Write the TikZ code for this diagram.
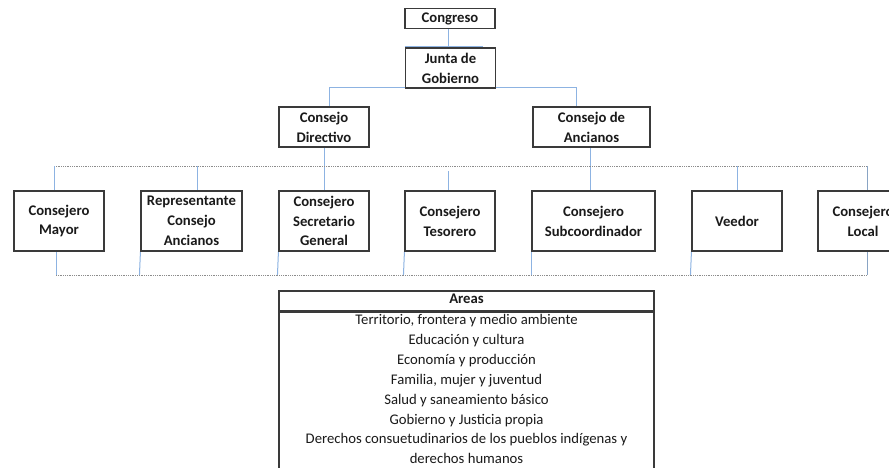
\documentclass[tikz,border=0pt]{standalone}
\usepackage{fontspec}
\setmainfont{Carlito}
\usetikzlibrary{backgrounds}
\definecolor{linkblue}{HTML}{8DB3E2}
\definecolor{boxline}{HTML}{3A3A3A}
\definecolor{guidegray}{HTML}{8C8C8C}
\definecolor{txt}{HTML}{1A1A1A}
\tikzset{
  box/.style={draw=boxline, line width=1.1pt, fill=white, align=center, inner sep=1pt,
    text=txt, font=\bfseries\fontsize{14.7}{19.8}\selectfont},
  tbox/.style={draw=boxline, line width=1.1pt, inner sep=0pt},
  conn/.style={draw=linkblue, line width=1pt},
  guide/.style={draw=guidegray, line width=0.8pt, densely dotted},
  arealine/.style={text=txt, inner sep=0pt, text height=9pt, text depth=4pt,
    font=\fontsize{14.7}{19.8}\selectfont},
}
\begin{document}
\begin{tikzpicture}[x=1pt,y=1pt]
\useasboundingbox (0,0) rectangle (889,-467);
\clip (0,0) rectangle (889,-467);
% boxes
\node[box, minimum width=90, minimum height=20] (congreso) at (450,-18.5) {Congreso};
\node[box, minimum width=90, minimum height=40] (junta) at (450.5,-68) {Junta de\\Gobierno};
\node[box, minimum width=90, minimum height=40] (directivo) at (324,-127) {Consejo\\Directivo};
\node[box, minimum width=117, minimum height=40] (ancianos) at (591.5,-127) {Consejo de\\Ancianos};
\node[box, minimum width=90, minimum height=60] (mayor) at (59,-221) {Consejero\\Mayor};
\node[box, minimum width=101, minimum height=60] (representante) at (191.5,-221) {Representante\\Consejo\\Ancianos};
\node[box, minimum width=90, minimum height=60] (secretario) at (324,-221) {Consejero\\Secretario\\General};
\node[box, minimum width=90, minimum height=60] (tesorero) at (450,-221) {Consejero\\Tesorero};
\node[box, minimum width=123, minimum height=60] (subcoord) at (593.5,-221) {Consejero\\Subcoordinador};
\node[box, minimum width=90, minimum height=60] (veedor) at (737,-221) {Veedor};
\node[box, minimum width=90, minimum height=60] (local) at (863,-221) {Consejero\\Local};
% areas table
\node[tbox, minimum width=375, minimum height=20, fill=white] (areas) at (466.5,-301) {};
\node[arealine, font=\bfseries\fontsize{14.7}{19.8}\selectfont] (areastitle) at (areas.center) {Areas};
\node[tbox, anchor=north, minimum width=375, minimum height=170] (areabody) at (areas.south) {};
\node[arealine] (a1) at (466.5,-321.5) {Territorio, frontera y medio ambiente};
\node[arealine] (a2) at (466.5,-341.5) {Educación y cultura};
\node[arealine] (a3) at (466.5,-361.5) {Economía y producción};
\node[arealine] (a4) at (466.5,-381.5) {Familia, mujer y juventud};
\node[arealine] (a5) at (466.5,-401.5) {Salud y saneamiento básico};
\node[arealine] (a6) at (466.5,-421.5) {Gobierno y Justicia propia};
\node[arealine] (a7) at (466.5,-441) {Derechos consuetudinarios de los pueblos indígenas y};
\node[arealine] (a8) at (466.5,-460.5) {derechos humanos};
% connectors
\coordinate (jl) at (329,-87);
\coordinate (jr) at (576,-87);
\coordinate (ax) at (590,0);
\coordinate (gl) at (54,-166);
\coordinate (gr) at (867,-166);
\coordinate (bl) at (56,-275);
\coordinate (br) at (867,-275);
\begin{scope}[on background layer]
\fill[white] (0,0) rectangle (889,-467);
\draw[conn] ([xshift=-2]congreso.south) -- ([xshift=-2,yshift=1]congreso.south |- junta.north);
\draw[conn] ([yshift=1]junta.north west) -- ([xshift=-13,yshift=1]junta.north east);
\draw[conn] (directivo.north -| jl) -- (jl) -- (jr) -- (ancianos.north -| jr);
\draw[conn] (directivo.south) -- (secretario.north);
\draw[conn] (ancianos.south -| ax) -- (subcoord.north -| ax);
\draw[guide] (gl) -- (gr);
\draw[guide] (bl) -- (br);
\draw[conn] (gl) -- ([yshift=-6]gl |- mayor.north);
\draw[conn] (gl -| 197,0) -- ([yshift=-5]representante.north -| 197,0);
\draw[conn] ([yshift=-5]gl -| 448,0) -- (tesorero.north -| 448,0);
\draw[conn] (gl -| veedor.north) -- (veedor.north);
\draw[conn, draw=linkblue!70!gray] (gr) -- ([yshift=-5]gr |- local.north);
\draw[conn] (mayor.south -| bl) -- (bl);
\draw[conn] (representante.south west) -- ([xshift=-1]representante.south west |- bl);
\draw[conn] (secretario.south west) -- ([xshift=-1]secretario.south west |- bl);
\draw[conn] (tesorero.south west) -- ([xshift=-1]tesorero.south west |- bl);
\draw[conn] (subcoord.south west) -- (subcoord.south west |- bl);
\draw[conn] (veedor.south west) -- ([xshift=-1]veedor.south west |- bl);
\draw[conn, draw=linkblue!70!gray] (local.south -| br) -- (br);
\end{scope}
\end{tikzpicture}
\end{document}
